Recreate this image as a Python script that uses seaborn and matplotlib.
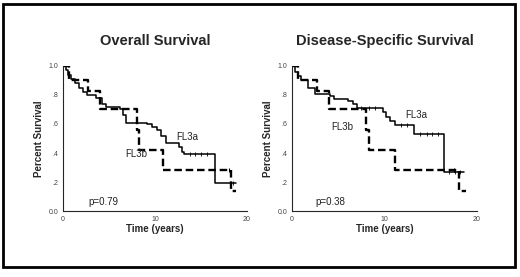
import matplotlib
matplotlib.use("Agg")
import matplotlib.pyplot as plt
import seaborn as sns
import pandas as pd
import numpy as np

# Kaplan-Meier step points (time in years, survival fraction)
os_a_time = [0, 0.3, 0.6, 0.9, 1.3, 1.8, 2.2, 2.6, 3.6, 4.2, 4.7, 6.2, 6.5, 6.8,
             9.1, 9.7, 10.2, 10.7, 11.2, 12.6, 12.9, 13.2, 16.5, 18.8]
os_a_surv = [1.0, 0.97, 0.94, 0.91, 0.88, 0.85, 0.82, 0.80, 0.78, 0.74, 0.72, 0.70, 0.66, 0.61,
             0.60, 0.58, 0.56, 0.52, 0.47, 0.44, 0.41, 0.39, 0.19, 0.19]
os_b_time = [0, 0.7, 2.7, 4.0, 8.0, 8.3, 10.9, 18.3, 18.8]
os_b_surv = [1.0, 0.90, 0.83, 0.70, 0.56, 0.42, 0.28, 0.14, 0.14]

dss_a_time = [0, 0.3, 0.6, 1.0, 1.7, 2.5, 4.1, 4.6, 6.1, 6.6, 7.0,
              9.8, 10.2, 10.6, 11.1, 13.2, 16.4, 18.6]
dss_a_surv = [1.0, 0.96, 0.93, 0.90, 0.85, 0.81, 0.79, 0.77, 0.76, 0.74, 0.71,
              0.68, 0.65, 0.62, 0.59, 0.53, 0.27, 0.27]
dss_b_time = [0, 0.65, 2.7, 4.0, 8.0, 8.3, 11.1, 18.1, 18.8]
dss_b_surv = [1.0, 0.90, 0.83, 0.70, 0.56, 0.42, 0.28, 0.14, 0.14]

# censoring marks
os_a_cens = [13.8, 14.4, 15.0, 15.6, 18.5]
os_b_cens = [18.0]
dss_a_cens = [7.5, 8.3, 9.0, 11.8, 12.4, 13.9, 14.6, 15.2, 15.8, 17.0, 17.6, 18.2]
dss_b_cens = [17.5]

titles = ["Overall Survival", "Disease-Specific Survival"]
p_values = ["p=0.79", "p=0.38"]
y_ticks = [0.0, 0.2, 0.4, 0.6, 0.8, 1.0]
y_tick_labels = ["0.0", ".2", ".4", ".6", ".8", "1.0"]
x_ticks = [0, 10, 20]


def step_value(times, surv, t):
	idx = np.searchsorted(times, t, side="right") - 1
	return surv[idx]


def km_panel(ax, a_t, a_s, b_t, b_s, a_c, b_c, title, pval, lab_a, lab_b):
	da = pd.DataFrame({"time": a_t, "surv": a_s})
	db = pd.DataFrame({"time": b_t, "surv": b_s})
	sns.lineplot(data=da, x="time", y="surv", ax=ax, estimator=None,
		drawstyle="steps-post", color="black", linewidth=1.1)
	sns.lineplot(data=db, x="time", y="surv", ax=ax, estimator=None,
		drawstyle="steps-post", color="black", linewidth=1.7, dashes=False,
		linestyle=(0, (3.2, 1.6)))
	ca = pd.DataFrame({"time": a_c, "surv": [step_value(a_t, a_s, t) for t in a_c]})
	cb = pd.DataFrame({"time": b_c, "surv": [step_value(b_t, b_s, t) for t in b_c]})
	sns.scatterplot(data=ca, x="time", y="surv", ax=ax, marker="|", color="black",
		s=5, linewidth=0.6)
	sns.scatterplot(data=cb, x="time", y="surv", ax=ax, marker="|", color="black",
		s=6, linewidth=0.8)
	ax.set_xlim(0, 20)
	ax.set_ylim(0, 1.0)
	ax.set_xticks(x_ticks)
	ax.set_xticklabels([str(t) for t in x_ticks], fontsize=5, color="#444444")
	ax.set_yticks(y_ticks)
	ax.set_yticklabels(y_tick_labels, fontsize=5, color="#444444")
	ax.tick_params(length=2, width=0.6, pad=1.5)
	ax.set_xlabel("Time (years)", fontsize=7, fontweight="bold", labelpad=1)
	ax.set_ylabel("Percent Survival", fontsize=7, fontweight="bold", labelpad=3)
	sns.despine(ax=ax)
	for s in ["left", "bottom"]:
		ax.spines[s].set_linewidth(0.8)
	ax.set_title(title, fontsize=10.5, fontweight="bold", pad=15)
	ax.text(lab_a[0], lab_a[1], "FL3a", fontsize=7, color="#222222")
	ax.text(lab_b[0], lab_b[1], "FL3b", fontsize=7, color="#222222")
	ax.text(pval[1][0], pval[1][1], pval[0], fontsize=7, color="#222222")


sns.set_theme(style="white")
plt.rcParams["font.family"] = ["Liberation Sans", "DejaVu Sans"]

fig = plt.figure(figsize=(5.2, 2.77), dpi=100)
ax1 = fig.add_axes([0.121, 0.238, 0.354, 0.524])
ax2 = fig.add_axes([0.5615, 0.238, 0.3555, 0.524])

km_panel(ax1, os_a_time, os_a_surv, os_b_time, os_b_surv, os_a_cens, os_b_cens,
	titles[0], (p_values[0], (2.8, 0.04)), (12.3, 0.49), (6.8, 0.37))
km_panel(ax2, dss_a_time, dss_a_surv, dss_b_time, dss_b_surv, dss_a_cens, dss_b_cens,
	titles[1], (p_values[1], (2.5, 0.04)), (12.3, 0.64), (4.3, 0.56))

border = plt.Rectangle((0.006, 0.035), 0.984, 0.95, transform=fig.transFigure,
	fill=False, edgecolor="black", linewidth=2)
fig.patches.append(border)

fig.savefig("out.png", dpi=100)
